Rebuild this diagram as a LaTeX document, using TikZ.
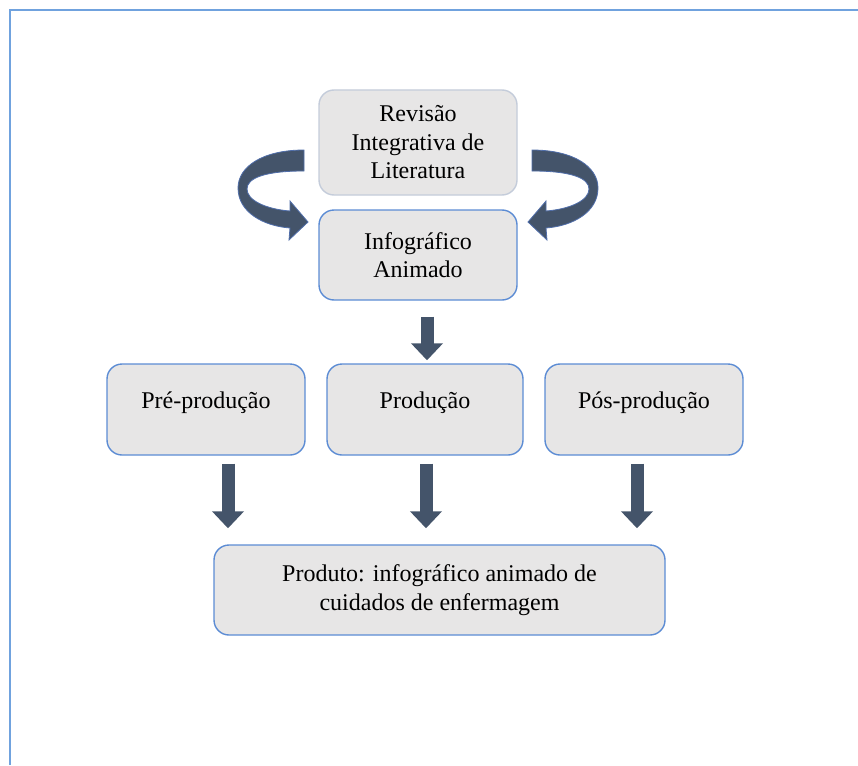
\documentclass[tikz,border=0pt]{standalone}
\usepackage{fontspec}
\IfFontExistsTF{LiberationSerif-Regular.ttf}
  {\setmainfont{LiberationSerif-Regular.ttf}}
  {}
\usetikzlibrary{arrows.meta,calc}
\definecolor{boxfill}{RGB}{231,230,230}
\definecolor{boxline}{RGB}{92,140,212}
\definecolor{revline}{RGB}{196,204,218}
\definecolor{arrowfill}{RGB}{68,84,106}
\definecolor{arrowline}{RGB}{80,110,170}
\definecolor{framecol}{RGB}{112,162,222}

\begin{document}
\begin{tikzpicture}[
  x=1pt, y=-1pt,
  font=\fontsize{24}{28.5}\selectfont,
  basebox/.style = {draw=boxline, fill=boxfill, line width=1.4pt, rounded corners=15pt,
                    minimum width=198pt, minimum height=90pt, inner sep=0pt},
  stepbox/.style = {basebox, align=center},
  phasebox/.style = {basebox, text height=44pt, text depth=47pt},
  downarrow/.style = {draw=arrowfill, line width=13pt, -{Triangle[width=31pt,length=17pt]}},
  curvedarrow/.style = {fill=arrowfill, draw=arrowline, line width=0.8pt}
  ]
	\useasboundingbox (0,0) rectangle (858,765);
	\draw[framecol, line width=2pt] (9.5,765) -- (9.5,10.5) -- (858,10.5);

	\node[stepbox, draw=revline, minimum height=105pt] (rev) at (418,142.5) {Revisão\\Integrativa de\\Literatura};
	\node[stepbox] (info) at (418,255) {Infográfico\\Animado};

	\node[phasebox] (pre) at (206,409.5) {Pré-produção};
	\node[phasebox, minimum width=196pt] (prod) at (425,409.5) {Produção};
	\node[phasebox] (pos) at (644,409.5) {Pós-produção};

	\node[stepbox, minimum width=451pt] (produto) at (439.5,590) {Produto: infográfico animado de\\cuidados de enfermagem};

	% curved arrows beside the top box
	\foreach \s/\o in {1/0, -1/836}
	{
		\begin{scope}[xshift=\o pt, xscale=\s]
			\draw[curvedarrow] (304,150) .. controls (262,150) and (238,167) .. (238,188)
				.. controls (238,212) and (263,226) .. (290,228)
				-- (289,240) -- (308,222) -- (290,201) -- (290,211)
				.. controls (265,209) and (247,200) .. (247,189)
				.. controls (247,178) and (265,171) .. (304,171) -- cycle;
		\end{scope}
	}

	\draw[downarrow] ($(info.south)+(9,16)$) -- ($(prod.north)+(2,-3)$);
	\foreach \n/\dx in {pre/22, prod/1, pos/-7}
		\draw[downarrow] ($(\n.south)+(\dx,8)$) -- ($(\n.south |- produto.north)+(\dx,-16)$);

\end{tikzpicture}
\end{document}
